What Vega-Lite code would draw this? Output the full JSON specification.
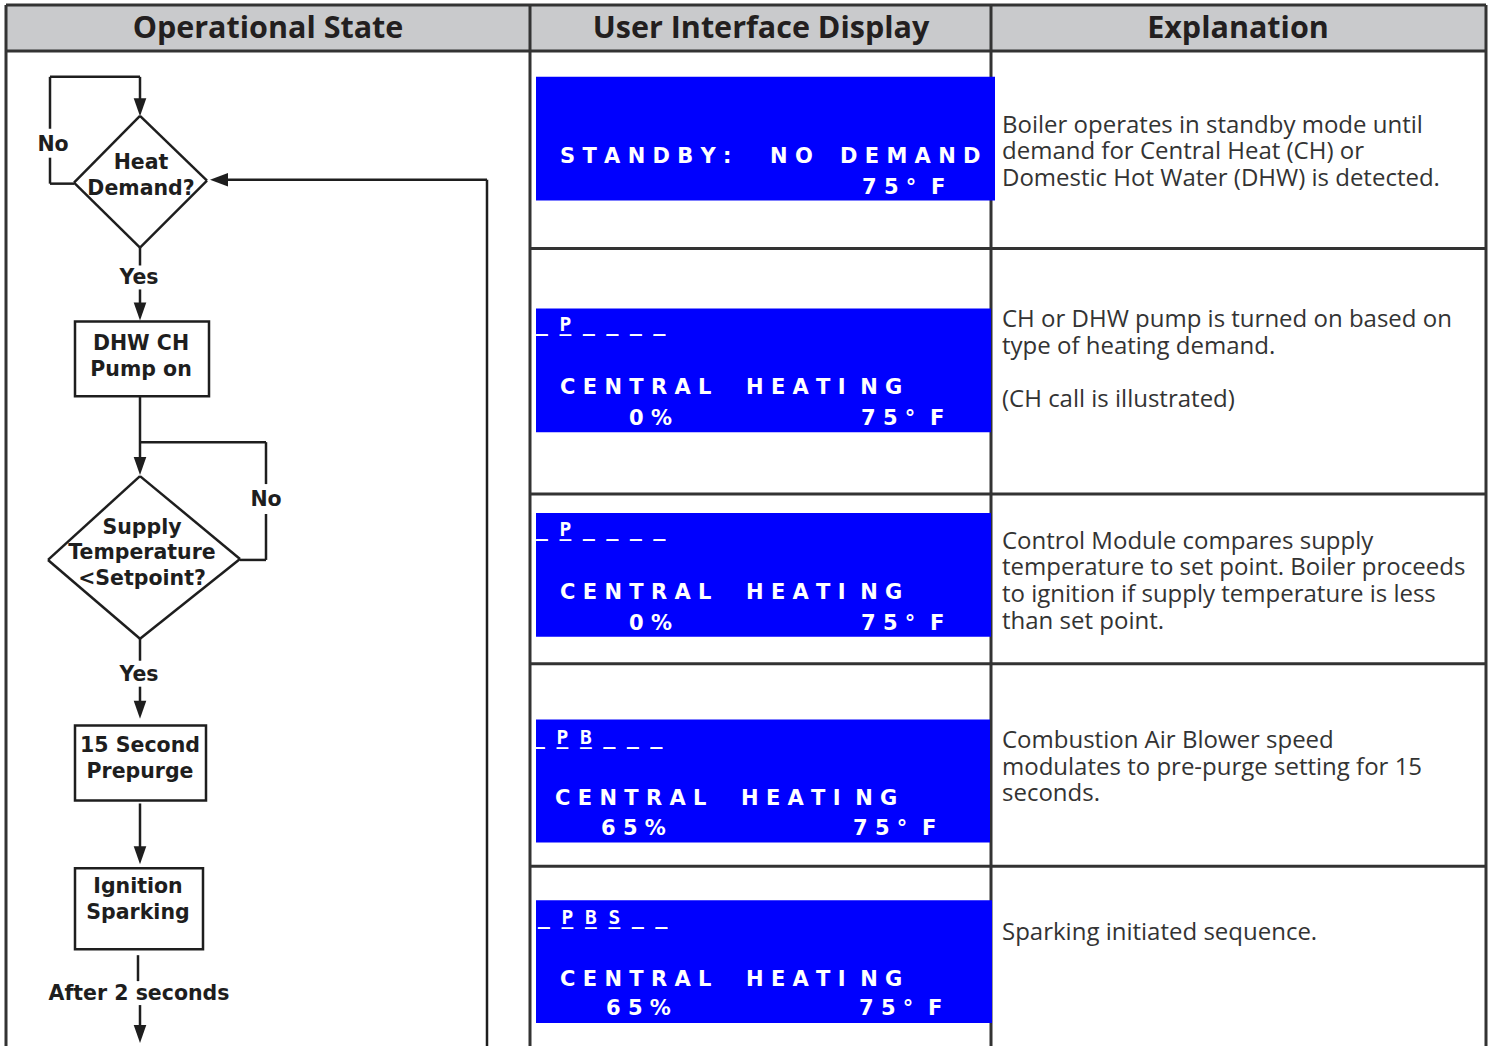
{
 "$schema": "https://vega.github.io/schema/vega-lite/v6.json",
 "width": 1496, "height": 1048, "padding": 0,
 "autosize": {"type": "fit", "contains": "padding"},
 "background": "white",
 "config": {"view": {"stroke": null}},
 "datasets": {
  "hdr": [{"x": 6, "x2": 1486, "y": 5, "y2": 51}],
  "grid": [
   {"x": 6, "y": 5, "x2": 1486, "y2": 5},
   {"x": 6, "y": 51, "x2": 1486, "y2": 51},
   {"x": 6, "y": 5, "x2": 6, "y2": 1048},
   {"x": 1486, "y": 5, "x2": 1486, "y2": 1048},
   {"x": 530, "y": 5, "x2": 530, "y2": 1048},
   {"x": 991, "y": 5, "x2": 991, "y2": 1048},
   {"x": 530, "y": 249, "x2": 1486, "y2": 249},
   {"x": 530, "y": 495, "x2": 1486, "y2": 495},
   {"x": 530, "y": 665, "x2": 1486, "y2": 665},
   {"x": 530, "y": 868, "x2": 1486, "y2": 868}
  ],
  "panels": [
   {"x": 536, "x2": 995, "y": 77, "y2": 201},
   {"x": 536, "x2": 991, "y": 309, "y2": 433},
   {"x": 536, "x2": 991, "y": 514, "y2": 638},
   {"x": 536, "x2": 990, "y": 721, "y2": 844},
   {"x": 536, "x2": 992, "y": 902, "y2": 1025}
  ],
  "flow": [
   {"x": 50, "y": 77, "x2": 140, "y2": 77},
   {"x": 140, "y": 77, "x2": 140, "y2": 100},
   {"x": 50, "y": 77, "x2": 50, "y2": 129},
   {"x": 50, "y": 158, "x2": 50, "y2": 184},
   {"x": 50, "y": 184, "x2": 74, "y2": 184},
   {"x": 140, "y": 116, "x2": 74, "y2": 183},
   {"x": 74, "y": 183, "x2": 140, "y2": 248},
   {"x": 140, "y": 248, "x2": 207, "y2": 181},
   {"x": 207, "y": 181, "x2": 140, "y2": 116},
   {"x": 487, "y": 180, "x2": 487, "y2": 1048},
   {"x": 487, "y": 180, "x2": 225, "y2": 180},
   {"x": 140, "y": 248, "x2": 140, "y2": 266},
   {"x": 140, "y": 290, "x2": 140, "y2": 305},
   {"x": 140, "y": 397, "x2": 140, "y2": 460},
   {"x": 140, "y": 443, "x2": 266, "y2": 443},
   {"x": 266, "y": 443, "x2": 266, "y2": 485},
   {"x": 266, "y": 515, "x2": 266, "y2": 561},
   {"x": 266, "y": 561, "x2": 240, "y2": 561},
   {"x": 140, "y": 477, "x2": 48, "y2": 561},
   {"x": 48, "y": 561, "x2": 140, "y2": 640},
   {"x": 140, "y": 640, "x2": 240, "y2": 560},
   {"x": 240, "y": 560, "x2": 140, "y2": 477},
   {"x": 140, "y": 640, "x2": 140, "y2": 662},
   {"x": 140, "y": 688, "x2": 140, "y2": 704},
   {"x": 140, "y": 805, "x2": 140, "y2": 850},
   {"x": 138, "y": 957, "x2": 138, "y2": 983},
   {"x": 140, "y": 1007, "x2": 140, "y2": 1030}
  ],
  "boxes": [
   {"x": 75, "x2": 209, "y": 322, "y2": 397},
   {"x": 75, "x2": 206, "y": 727, "y2": 802},
   {"x": 75, "x2": 203, "y": 870, "y2": 951}
  ],
  "arrows": [
   {"x": 140, "y": 107.5, "dir": "down"},
   {"x": 219, "y": 180, "dir": "left"},
   {"x": 140, "y": 312, "dir": "down"},
   {"x": 140, "y": 467, "dir": "down"},
   {"x": 140, "y": 711, "dir": "down"},
   {"x": 140, "y": 857, "dir": "down"},
   {"x": 140, "y": 1036, "dir": "down"}
  ],
  "flowText": [
   {"x": 53, "y": 145, "t": "No"},
   {"x": 141, "y": 163, "t": "Heat"},
   {"x": 141, "y": 189, "t": "Demand?"},
   {"x": 139, "y": 279, "t": "Yes"},
   {"x": 141, "y": 345, "t": "DHW CH"},
   {"x": 141, "y": 371, "t": "Pump on"},
   {"x": 266, "y": 501, "t": "No"},
   {"x": 142, "y": 529, "t": "Supply"},
   {"x": 142, "y": 554, "t": "Temperature"},
   {"x": 142, "y": 580, "t": "<Setpoint?"},
   {"x": 139, "y": 676, "t": "Yes"},
   {"x": 140, "y": 747, "t": "15 Second"},
   {"x": 140, "y": 773, "t": "Prepurge"},
   {"x": 138, "y": 889, "t": "Ignition"},
   {"x": 138, "y": 915, "t": "Sparking"},
   {"x": 139, "y": 996, "t": "After 2 seconds"}
  ],
  "lcd": [
   {"x": 560, "y": 157, "t": "S T A N D B Y :"},
   {"x": 770, "y": 157, "t": "N O"},
   {"x": 840, "y": 157, "t": "D E M A N D"},
   {"x": 862, "y": 188, "t": "7 5 °\u00a0\u00a0F"},
   {"x": 560, "y": 389, "t": "C E N T R A L"},
   {"x": 746, "y": 389, "t": "H E A T I\u00a0\u00a0N G"},
   {"x": 629, "y": 420, "t": "0 %"},
   {"x": 861, "y": 420, "t": "7 5 °\u00a0\u00a0F"},
   {"x": 560, "y": 594, "t": "C E N T R A L"},
   {"x": 746, "y": 594, "t": "H E A T I\u00a0\u00a0N G"},
   {"x": 629, "y": 625, "t": "0 %"},
   {"x": 861, "y": 625, "t": "7 5 °\u00a0\u00a0F"},
   {"x": 555, "y": 801, "t": "C E N T R A L"},
   {"x": 741, "y": 801, "t": "H E A T I\u00a0\u00a0N G"},
   {"x": 601, "y": 831, "t": "6 5 %"},
   {"x": 853, "y": 831, "t": "7 5 °\u00a0\u00a0F"},
   {"x": 560, "y": 982, "t": "C E N T R A L"},
   {"x": 746, "y": 982, "t": "H E A T I\u00a0\u00a0N G"},
   {"x": 606, "y": 1011, "t": "6 5 %"},
   {"x": 859, "y": 1011, "t": "7 5 °\u00a0\u00a0F"}
  ],
  "status": [
   {"x": 536, "y": 325.5, "t": "_ P _ _ _ _", "ul": "_ _ _ _ _ _"},
   {"x": 536, "y": 531.5, "t": "_ P _ _ _ _", "ul": "_ _ _ _ _ _"},
   {"x": 533, "y": 739, "t": "_ P B _ _ _", "ul": "_ _ _ _ _ _"},
   {"x": 538, "y": 919.5, "t": "_ P B S _ _", "ul": "_ _ _ _ _ _"}
  ],
  "expl": [
   {"x": 1002, "y": 126, "t": "Boiler operates in standby mode until"},
   {"x": 1002, "y": 152, "t": "demand for Central Heat (CH) or"},
   {"x": 1002, "y": 179, "t": "Domestic Hot Water (DHW) is detected."},
   {"x": 1002, "y": 321, "t": "CH or DHW pump is turned on based on"},
   {"x": 1002, "y": 348, "t": "type of heating demand."},
   {"x": 1002, "y": 401, "t": "(CH call is illustrated)"},
   {"x": 1002, "y": 543, "t": "Control Module compares supply"},
   {"x": 1002, "y": 569, "t": "temperature to set point. Boiler proceeds"},
   {"x": 1002, "y": 596, "t": "to ignition if supply temperature is less"},
   {"x": 1002, "y": 623, "t": "than set point."},
   {"x": 1002, "y": 742, "t": "Combustion Air Blower speed"},
   {"x": 1002, "y": 769, "t": "modulates to pre-purge setting for 15"},
   {"x": 1002, "y": 796, "t": "seconds."},
   {"x": 1002, "y": 935, "t": "Sparking initiated sequence."}
  ],
  "heads": [
   {"x": 268, "y": 29, "t": "Operational State"},
   {"x": 761, "y": 29, "t": "User Interface Display"},
   {"x": 1238, "y": 29, "t": "Explanation"}
  ]
 },
 "encoding": {
  "x": {"field": "x", "type": "quantitative", "scale": {"domain": [0, 1496], "nice": false, "zero": false}, "axis": null},
  "y": {"field": "y", "type": "quantitative", "scale": {"domain": [0, 1048], "nice": false, "zero": false, "reverse": true}, "axis": null}
 },
 "layer": [
  {"data": {"name": "hdr"}, "mark": {"type": "rect", "fill": "#c9cacc"},
   "encoding": {"x2": {"field": "x2"}, "y2": {"field": "y2"}}},
  {"data": {"name": "grid"}, "mark": {"type": "rule", "stroke": "#333333", "strokeWidth": 3},
   "encoding": {"x2": {"field": "x2"}, "y2": {"field": "y2"}}},
  {"data": {"name": "panels"}, "mark": {"type": "rect", "fill": "#0000fe"},
   "encoding": {"x2": {"field": "x2"}, "y2": {"field": "y2"}}},
  {"data": {"name": "flow"}, "mark": {"type": "rule", "stroke": "#1e1e1e", "strokeWidth": 2.5},
   "encoding": {"x2": {"field": "x2"}, "y2": {"field": "y2"}}},
  {"data": {"name": "boxes"}, "mark": {"type": "rect", "fill": "white", "stroke": "#1e1e1e", "strokeWidth": 2.5},
   "encoding": {"x2": {"field": "x2"}, "y2": {"field": "y2"}}},
  {"data": {"name": "arrows"}, "mark": {"type": "point", "filled": true, "color": "#1e1e1e", "size": 324, "opacity": 1},
   "encoding": {"shape": {"field": "dir", "type": "nominal", "scale": {"domain": ["down", "left"], "range": ["M-0.7,-1L0.7,-1L0,1Z", "M1,-0.75L1,0.75L-1,0Z"]}, "legend": null}}},
  {"data": {"name": "flowText"}, "mark": {"type": "text", "font": "DejaVu Sans", "fontWeight": "bold", "fontSize": 20.5, "color": "#1e1e1e", "align": "center", "baseline": "middle"},
   "encoding": {"text": {"field": "t"}}},
  {"data": {"name": "lcd"}, "mark": {"type": "text", "font": "DejaVu Sans", "fontWeight": "bold", "fontSize": 21, "color": "white", "align": "left", "baseline": "middle"},
   "encoding": {"text": {"field": "t"}}},
  {"data": {"name": "status"}, "mark": {"type": "text", "font": "DejaVu Sans Mono", "fontWeight": "bold", "fontSize": 19.5, "color": "white", "align": "left", "baseline": "middle"},
   "encoding": {"text": {"field": "t"}}},
  {"data": {"name": "status"}, "mark": {"type": "text", "font": "DejaVu Sans Mono", "fontWeight": "bold", "fontSize": 19.5, "color": "white", "align": "left", "baseline": "middle"},
   "encoding": {"text": {"field": "ul"}}},
  {"data": {"name": "expl"}, "mark": {"type": "text", "font": "Open Sans", "fontSize": 24, "color": "#333333", "align": "left", "baseline": "middle"},
   "encoding": {"text": {"field": "t"}}},
  {"data": {"name": "heads"}, "mark": {"type": "text", "font": "Open Sans", "fontWeight": "bold", "fontSize": 30.5, "color": "#231f20", "align": "center", "baseline": "middle"},
   "encoding": {"text": {"field": "t"}}}
 ]
}
